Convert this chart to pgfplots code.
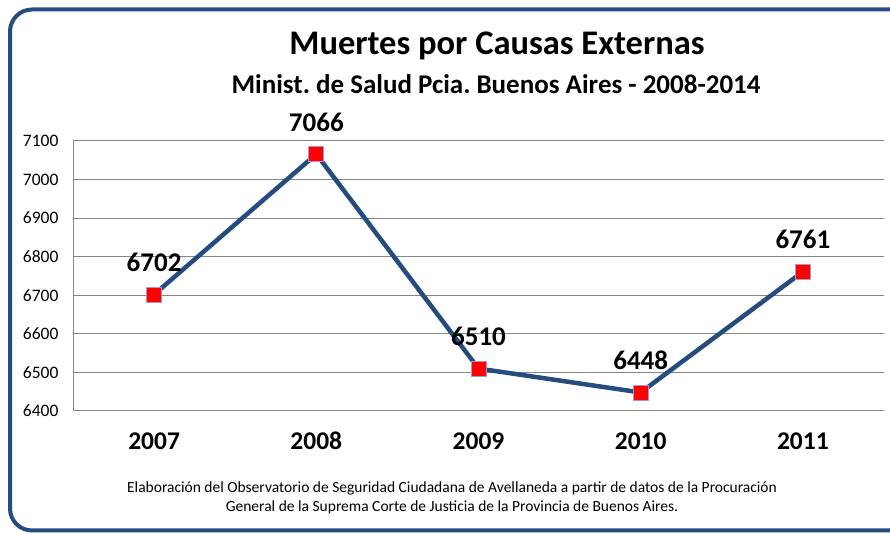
\documentclass[border=0pt]{standalone}
\usepackage{fontspec}
\setmainfont{Carlito}
\usepackage{pgfplots}
\pgfplotsset{compat=1.18}
\definecolor{frameblue}{RGB}{36,76,128}
\definecolor{lineblue}{RGB}{36,76,128}
\definecolor{gridgray}{RGB}{134,134,134}
\definecolor{markborder}{RGB}{170,150,200}
\frenchspacing
\begin{document}
\begin{tikzpicture}[x=1pt,y=1pt]
\clip (0,0) rectangle (890,534);
\draw[frameblue, line width=4pt, rounded corners=22pt] (10,3.5) rectangle (920,524.5);
\node[font=\fontsize{34.5}{34.5}\selectfont\bfseries] at (497,488) {Muertes por Causas Externas};
\node[font=\fontsize{27}{27}\selectfont\bfseries] at (496,450) {Minist. de Salud Pcia. Buenos Aires - 2008-2014};
\node[font=\fontsize{15.5}{15.5}\selectfont] at (452,46) {Elaboración del Observatorio de Seguridad Ciudadana de Avellaneda a partir de datos de la Procuración};
\node[font=\fontsize{15.5}{15.5}\selectfont] at (452,27) {General de la Suprema Corte de Justicia de la Provincia de Buenos Aires.};
\begin{axis}[
  at={(73pt,123pt)}, anchor=south west,
  scale only axis, width=811pt, height=270pt,
  xmin=-0.5, xmax=4.5, ymin=6400, ymax=7100,
  ytick={6400,6500,...,7100},
  xtick={0,1,2,3,4},
  xticklabels={2007,2008,2009,2010,2011},
  /pgf/number format/1000 sep={},
  /pgf/number format/assume math mode=true,
  ymajorgrids,
  grid style={gridgray, line width=1pt},
  axis lines*=left,
  axis line style={gridgray, line width=1pt, -},
  major tick length=0pt,
  tick style={draw=none},
  yticklabel style={font=\fontsize{17.5}{17.5}\selectfont, anchor=east, xshift=-11pt},
  xticklabel style={font=\fontsize{25.5}{25.5}\selectfont\bfseries, anchor=base, yshift=-38.5pt},
  clip=false,
]
\addplot[lineblue, line width=4.5pt, mark=square*, mark size=7.5pt,
  mark options={fill=red, draw=markborder, line width=0.8pt},
  nodes near coords,
  every node near coord/.append style={font=\fontsize{27}{27}\selectfont\bfseries, black, anchor=base, yshift=23pt}]
  coordinates {(0,6702) (1,7066) (2,6510) (3,6448) (4,6761)};
\end{axis}
\end{tikzpicture}
\end{document}
